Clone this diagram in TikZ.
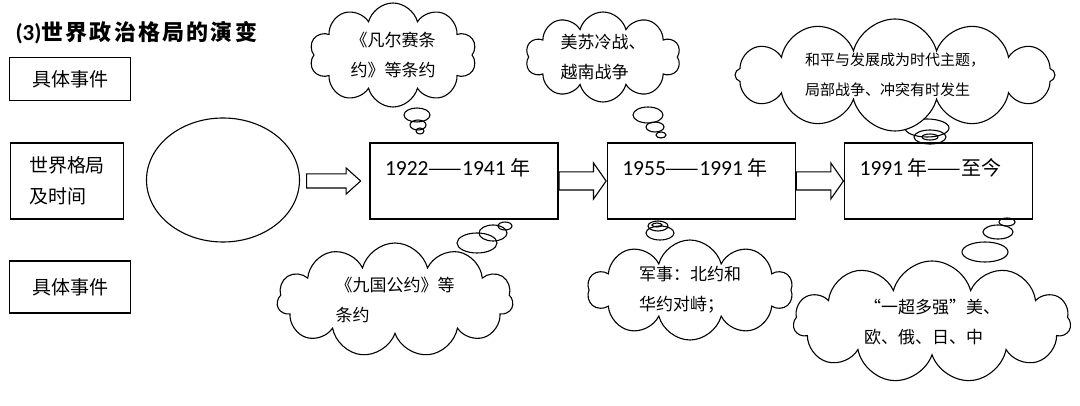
\documentclass[tikz,border=0pt]{standalone}
\usepackage{fontspec}
\setmainfont{Noto Sans CJK SC}
\newfontfamily\numfont{Carlito}
\usetikzlibrary{positioning,shapes.geometric,shapes.symbols,shapes.arrows}

\begin{document}
\begin{tikzpicture}[
		x=1pt, y=-1pt, line width=1.1pt
		,every node/.append style={inner sep=0pt}
		,lb/.style={draw, minimum width=121pt, font=\fontsize{19}{31}\selectfont, align=left}
		,yb/.style={draw, minimum width=188pt, minimum height=76pt}
		,yt/.style={anchor=west, font=\fontsize{20}{24}\selectfont, xshift=15pt, yshift=-25pt}
		,ar/.style={single arrow, draw, minimum height=47pt, inner ysep=8.5pt, inner xsep=0pt, single arrow head extend=9pt, single arrow tip angle=110}
		,th/.style={cloud, draw, fill=white, cloud puffs=10, cloud ignores aspect, align=left, font=\fontsize{17}{30}\selectfont}
	]
	\useasboundingbox (0,0) rectangle (1080,406);

	% title
	\node [anchor=west, font=\fontsize{22}{24}\selectfont\bfseries] (T) at (15,33) {{\numfont\fontsize{23}{24}\selectfont (3)}{\addfontfeature{LetterSpace=10}世界政治格局的演变}};

	% left column
	\node [lb, minimum height=43pt] (E1) at (70,79) {具体事件};
	\node [lb, minimum width=113pt, minimum height=76pt] (W) at (67,181) {世界格局\\及时间};
	\node [lb, minimum height=52pt] (E2) at (70,287) {具体事件};

	% timeline
	\node [draw, ellipse, minimum width=153pt, minimum height=124pt] (O) at (223,180) {};
	\node [yb, label={[yt]north west:{\numfont\fontsize{21.5}{24}\selectfont 1922}——{\numfont\fontsize{21.5}{24}\selectfont 1941} 年}] (P1) at (464,181) {};
	\node [ar, minimum height=54pt, inner ysep=6.5pt, single arrow head extend=6pt, single arrow tip angle=84, left=8pt of P1] (A1) {};
	\node [ar, right=0pt of P1] (A2) {};
	\node [yb, right=0pt of A2, label={[yt]north west:{\numfont\fontsize{21.5}{24}\selectfont 1955}——{\numfont\fontsize{21.5}{24}\selectfont 1991} 年}] (P2) {};
	\node [ar, right=0pt of P2] (A3) {};
	\node [yb, right=0pt of A3, label={[yt]north west:{\numfont\fontsize{21.5}{24}\selectfont 1991} 年——至今}] (P3) {};

	% thought bubbles
	\foreach \x/\y/\a/\b in {417/115/13/7, 418/125/8/5, 420/131/4/3,
		648/115/15/8, 655/127/9/5, 661/135/5/3,
		927/128/22/9, 930/137/16/7, 930/137/8/3,
		477/243/20/10, 493/233/14/8, 505/226/7/4,
		660/233/14/7, 658/226/10/5, 657/225/5/2,
		985/252/23/10, 998/232/15/7, 1007/222/8/4}
		\draw (\x,\y) ellipse [x radius=\a, y radius=\b];

	\node [th, minimum width=167pt, minimum height=104pt] (C1) at (393,55) {《凡尔赛条\\约》等条约};
	\node [th, minimum width=155pt, minimum height=88pt] (C2) at (603,57) {美苏冷战、\\越南战争};
	\node [th, cloud puffs=12, minimum width=320pt, minimum height=112pt, font=\fontsize{15}{30}\selectfont] (C3) at (895,75) {和平与发展成为时代主题，\\局部战争、冲突有时发生};
	\node [th, cloud puffs=11, minimum width=236pt, minimum height=114pt] (C4) at (395,300) {《九国公约》等\\条约};
	\node [th, minimum width=205pt, minimum height=100pt] (C5) at (690,290) {军事：北约和\\华约对峙；};
	\node [th, cloud puffs=11, minimum width=277pt, minimum height=122pt] (C6) at (932,322) {“一超多强”美、\\欧、俄、日、中};
\end{tikzpicture}
\end{document}
